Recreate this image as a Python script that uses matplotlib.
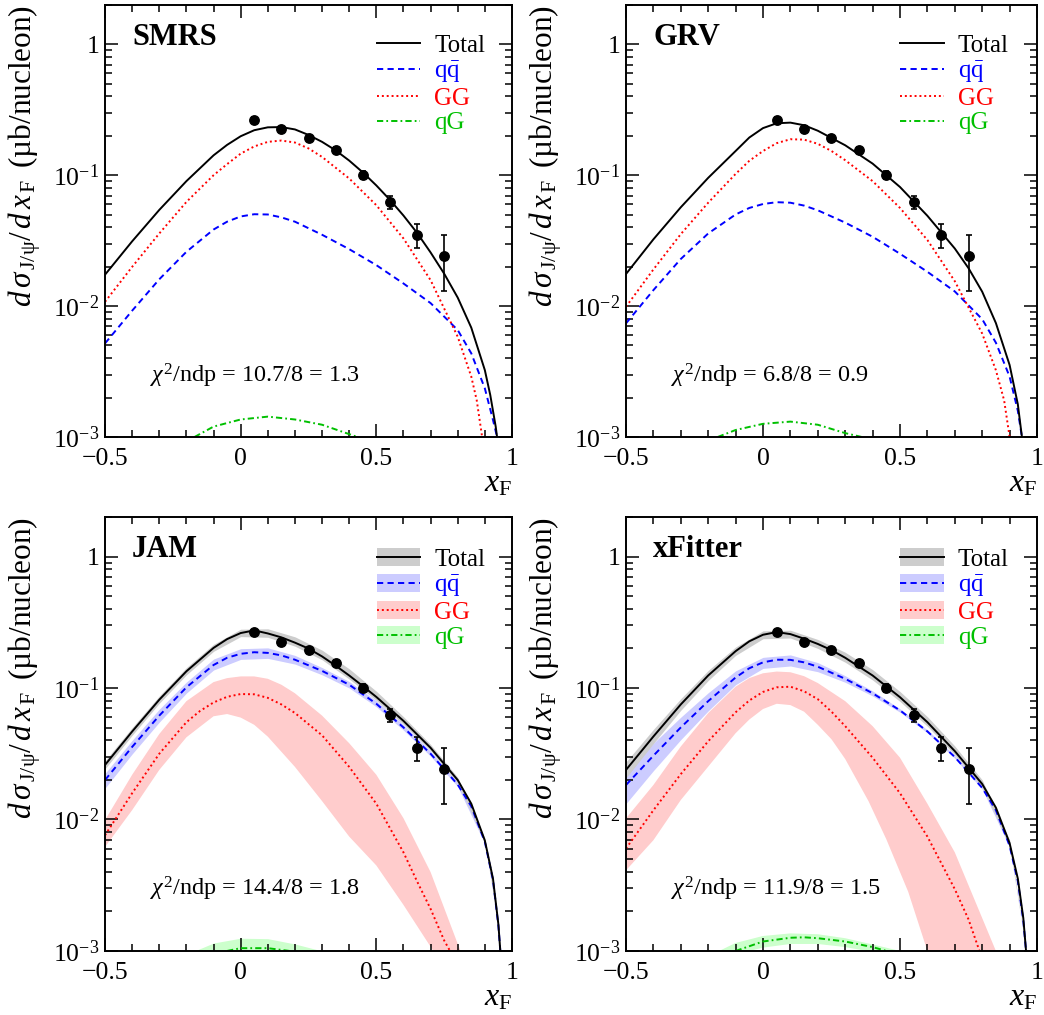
import numpy as np
import matplotlib
matplotlib.use('Agg')
import matplotlib.pyplot as plt
from matplotlib.lines import Line2D
from matplotlib.patches import Patch
from matplotlib import ticker

# ---- fonts: Times-like, ROOT style ----
plt.rcParams['font.family'] = ['Liberation Serif', 'DejaVu Serif']
plt.rcParams['mathtext.fontset'] = 'custom'
plt.rcParams['mathtext.rm'] = 'Liberation Serif'
plt.rcParams['mathtext.it'] = 'Liberation Serif:italic'
plt.rcParams['mathtext.bf'] = 'Liberation Serif:bold'

# ---- data points (same in every panel) ----
xf_data = [0.05, 0.15, 0.25, 0.35, 0.45, 0.55, 0.65, 0.75]
sig_data = [0.266, 0.224, 0.194, 0.155, 0.100, 0.0625, 0.0352, 0.0241]
sig_err = [0.012, 0.010, 0.009, 0.008, 0.007, 0.0073, 0.0074, 0.011]

# ---- SMRS ----
smrs_tot_x = [-0.5, -0.4, -0.3, -0.2, -0.1, -0.05, 0.0, 0.05, 0.1, 0.15, 0.2, 0.25, 0.3, 0.35, 0.4, 0.45,
              0.5, 0.55, 0.6, 0.65, 0.7, 0.75, 0.8, 0.85, 0.9, 0.92, 0.94, 0.945]
smrs_tot_y = [0.01738, 0.03126, 0.05433, 0.09016, 0.1419, 0.1706, 0.1986, 0.2208, 0.2323, 0.2333, 0.2239,
              0.2032, 0.1799, 0.1549, 0.1294, 0.1052, 0.08356, 0.06486, 0.04920, 0.03631, 0.02570, 0.01770,
              0.01161, 0.00684, 0.00324, 0.00209, 0.00120, 0.001]
smrs_gg_x = [-0.5, -0.4, -0.3, -0.2, -0.1, -0.05, 0.0, 0.05, 0.1, 0.15, 0.2, 0.25, 0.3, 0.4, 0.5, 0.6,
             0.7, 0.8, 0.85, 0.87, 0.89]
smrs_gg_y = [0.01079, 0.01995, 0.03589, 0.06252, 0.1000, 0.1216, 0.1462, 0.1660, 0.1799, 0.1841, 0.1778,
             0.1603, 0.1380, 0.09441, 0.05902, 0.03289, 0.01578, 0.00583, 0.00289, 0.00191, 0.001]
smrs_qq_x = [-0.5, -0.4, -0.3, -0.2, -0.1, -0.05, 0.0, 0.05, 0.1, 0.15, 0.2, 0.3, 0.4, 0.5, 0.6, 0.7,
             0.8, 0.85, 0.9, 0.93, 0.945]
smrs_qq_y = [0.005188, 0.009226, 0.01603, 0.02600, 0.03846, 0.04416, 0.04842, 0.05035, 0.05012, 0.04764,
             0.04416, 0.03508, 0.02723, 0.02056, 0.01489, 0.01054, 0.006561, 0.004355, 0.002350, 0.001349, 0.001]
smrs_qg_x = [-0.17, -0.1, 0.0, 0.1, 0.2, 0.3, 0.43]
smrs_qg_y = [0.001, 0.00120, 0.00136, 0.00143, 0.00136, 0.00124, 0.001]

# ---- GRV ----
grv_tot_x = [-0.5, -0.4, -0.3, -0.2, -0.1, -0.05, 0.0, 0.05, 0.1, 0.15, 0.2, 0.3, 0.4, 0.5, 0.6, 0.7,
             0.75, 0.8, 0.85, 0.9, 0.93, 0.945]
grv_tot_y = [0.01758, 0.03236, 0.05689, 0.09550, 0.1531, 0.1941, 0.2291, 0.2495, 0.2523, 0.2410, 0.2188,
             0.1694, 0.1227, 0.08128, 0.04898, 0.02754, 0.01950, 0.01288, 0.007413, 0.003548, 0.001778, 0.001]
grv_gg_x = [-0.5, -0.4, -0.3, -0.2, -0.1, -0.05, 0.0, 0.05, 0.1, 0.15, 0.2, 0.25, 0.3, 0.4, 0.5, 0.6,
            0.7, 0.8, 0.85, 0.88, 0.9]
grv_gg_y = [0.009886, 0.01905, 0.03548, 0.06166, 0.1023, 0.1288, 0.1531, 0.1758, 0.1884, 0.1871, 0.1738,
            0.1531, 0.1303, 0.09016, 0.05623, 0.03199, 0.01549, 0.006166, 0.003236, 0.001905, 0.001]
grv_qq_x = [-0.5, -0.4, -0.3, -0.2, -0.1, -0.05, 0.0, 0.05, 0.1, 0.15, 0.2, 0.3, 0.4, 0.5, 0.6, 0.7,
            0.8, 0.85, 0.9, 0.93, 0.945]
grv_qq_y = [0.007379, 0.01324, 0.02291, 0.03589, 0.05012, 0.05623, 0.06026, 0.06223, 0.06166, 0.05861,
            0.05395, 0.04345, 0.03388, 0.02512, 0.01828, 0.01294, 0.007943, 0.005248, 0.002891, 0.001585, 0.001]
grv_qg_x = [-0.165, -0.1, 0.0, 0.1, 0.2, 0.3, 0.36]
grv_qg_y = [0.001, 0.00113, 0.00126, 0.00131, 0.00124, 0.00107, 0.001]

# ---- JAM ----
jam_tot_x = [-0.5, -0.4, -0.3, -0.2, -0.1, -0.05, 0.0, 0.05, 0.1, 0.15, 0.2, 0.25, 0.3, 0.35, 0.4, 0.45,
             0.5, 0.6, 0.7, 0.8, 0.85, 0.9, 0.93, 0.95, 0.957]
jam_tot_y = [0.02600, 0.04667, 0.08147, 0.1340, 0.2018, 0.2355, 0.2618, 0.2742, 0.2600, 0.2427, 0.2213,
             0.1995, 0.1738, 0.1479, 0.1245, 0.1035, 0.08551, 0.05623, 0.03508, 0.01995, 0.01318, 0.006918,
             0.003548, 0.001585, 0.001]
jam_qq_x = [-0.5, -0.4, -0.3, -0.2, -0.1, -0.05, 0.0, 0.05, 0.1, 0.15, 0.2, 0.3, 0.4, 0.5, 0.6, 0.7,
            0.8, 0.85, 0.9, 0.93, 0.95, 0.957]
jam_qq_y = [0.01995, 0.03565, 0.06166, 0.1012, 0.1496, 0.1698, 0.1820, 0.1871, 0.1849, 0.1770, 0.1641,
            0.1349, 0.1059, 0.07586, 0.05012, 0.03162, 0.01841, 0.01259, 0.006761, 0.003467, 0.001549, 0.001]
jam_tot_band_x = [-0.5, -0.4, -0.3, -0.2, -0.1, 0.0, 0.1, 0.2, 0.3, 0.4, 0.5, 0.6, 0.7, 0.8, 0.9, 0.95]
jam_tot_hi = [0.0280, 0.0500, 0.0870, 0.143, 0.215, 0.280, 0.282, 0.245, 0.194, 0.140, 0.0945, 0.0605,
              0.0372, 0.0209, 0.00720, 0.00165]
jam_tot_lo = [0.0243, 0.0437, 0.0765, 0.126, 0.190, 0.246, 0.243, 0.208, 0.164, 0.117, 0.0805, 0.0530,
              0.0334, 0.0190, 0.00665, 0.00153]
jam_qq_band_x = [-0.5, -0.4, -0.3, -0.2, -0.1, 0.0, 0.1, 0.2, 0.3, 0.4, 0.5, 0.6, 0.7, 0.8, 0.9]
jam_qq_hi = [0.0224, 0.0400, 0.0690, 0.111, 0.166, 0.199, 0.202, 0.177, 0.143, 0.112, 0.0800, 0.0525,
             0.0330, 0.0191, 0.00700]
jam_qq_lo = [0.0173, 0.0315, 0.0550, 0.0915, 0.137, 0.165, 0.168, 0.152, 0.126, 0.100, 0.0720, 0.0478,
             0.0303, 0.0178, 0.00652]
jam_gg_x = [-0.5, -0.4, -0.3, -0.2, -0.15, -0.1, -0.05, 0.0, 0.05, 0.1, 0.15, 0.2, 0.3, 0.4, 0.5, 0.6,
            0.65, 0.7, 0.75, 0.78]
jam_gg_y = [0.007586, 0.01585, 0.03162, 0.05495, 0.06683, 0.07762, 0.08570, 0.08995, 0.08954, 0.08414,
            0.07499, 0.06457, 0.04365, 0.02512, 0.01318, 0.005623, 0.003388, 0.002089, 0.001202, 0.000933]
jam_gg_hi_x = [-0.5, -0.4, -0.3, -0.2, -0.1, -0.05, 0.0, 0.05, 0.1, 0.15, 0.2, 0.3, 0.4, 0.5, 0.6, 0.7, 0.81]
jam_gg_hi = [0.009886, 0.02188, 0.04467, 0.07943, 0.1109, 0.1189, 0.1225, 0.1225, 0.1175, 0.1059, 0.09120,
             0.06166, 0.03802, 0.02188, 0.01023, 0.00398, 0.001]
jam_gg_lo_x = [-0.5, -0.4, -0.3, -0.2, -0.1, -0.05, 0.0, 0.05, 0.1, 0.2, 0.3, 0.4, 0.5, 0.6, 0.71]
jam_gg_lo = [0.006180, 0.01178, 0.02382, 0.04217, 0.06095, 0.06339, 0.05957, 0.05248, 0.04266, 0.02512,
             0.01380, 0.007413, 0.00447, 0.00224, 0.001]
jam_qg_x = [-0.05, 0.0, 0.1, 0.18]
jam_qg_y = [0.001, 0.00105, 0.00105, 0.001]
jam_qg_hi_x = [-0.17, -0.1, 0.0, 0.1, 0.2, 0.3]
jam_qg_hi = [0.001, 0.00115, 0.00125, 0.00124, 0.00113, 0.001]

# ---- xFitter ----
xft_tot_x = [-0.5, -0.4, -0.3, -0.2, -0.1, -0.05, 0.0, 0.05, 0.1, 0.15, 0.2, 0.25, 0.3, 0.4, 0.5, 0.6,
             0.7, 0.8, 0.85, 0.9, 0.93, 0.95, 0.96]
xft_tot_y = [0.02382, 0.04276, 0.07499, 0.1245, 0.1905, 0.2265, 0.2541, 0.2661, 0.2570, 0.2371, 0.2163,
             0.1941, 0.1698, 0.1245, 0.08511, 0.05495, 0.03311, 0.01862, 0.01230, 0.006607, 0.003548,
             0.001778, 0.001]
xft_qq_x = [-0.5, -0.4, -0.3, -0.2, -0.1, -0.05, 0.0, 0.05, 0.1, 0.15, 0.2, 0.3, 0.4, 0.5, 0.6, 0.7,
            0.8, 0.85, 0.9, 0.93, 0.95, 0.96]
xft_qq_y = [0.01828, 0.03055, 0.05012, 0.07943, 0.1202, 0.1413, 0.1567, 0.1641, 0.1637, 0.1567, 0.1452,
            0.1175, 0.09120, 0.06761, 0.04677, 0.02985, 0.01738, 0.01175, 0.006310, 0.003388, 0.001698, 0.001]
xft_tot_band_x = [-0.5, -0.4, -0.3, -0.2, -0.1, 0.0, 0.1, 0.2, 0.3, 0.4, 0.5, 0.6, 0.7, 0.8, 0.9, 0.96]
xft_tot_hi = [0.0274, 0.0484, 0.0830, 0.136, 0.205, 0.272, 0.275, 0.234, 0.187, 0.138, 0.0940, 0.0605,
              0.0362, 0.0200, 0.00700, 0.001]
xft_tot_lo = [0.0207, 0.0378, 0.0677, 0.114, 0.177, 0.237, 0.240, 0.200, 0.157, 0.115, 0.0790, 0.0512,
              0.0310, 0.0176, 0.00630, 0.001]
xft_qq_band_x = [-0.5, -0.4, -0.3, -0.2, -0.1, 0.0, 0.1, 0.2, 0.3, 0.4, 0.5, 0.6, 0.7, 0.8, 0.9]
xft_qq_hi = [0.0238, 0.0380, 0.0600, 0.0920, 0.135, 0.171, 0.1785, 0.156, 0.124, 0.0950, 0.0695, 0.0480,
             0.0306, 0.0178, 0.00645]
xft_qq_lo = [0.0132, 0.0235, 0.0405, 0.0670, 0.106, 0.141, 0.147, 0.133, 0.1105, 0.0870, 0.0655, 0.0456,
             0.0292, 0.0170, 0.00617]
xft_gg_x = [-0.5, -0.4, -0.3, -0.2, -0.1, -0.05, 0.0, 0.05, 0.1, 0.15, 0.2, 0.25, 0.3, 0.4, 0.5, 0.6,
            0.7, 0.75, 0.79]
xft_gg_y = [0.006012, 0.01175, 0.02213, 0.03936, 0.06531, 0.08035, 0.09333, 0.1012, 0.1023, 0.09441,
            0.08222, 0.06607, 0.05129, 0.02951, 0.01585, 0.007413, 0.002951, 0.001738, 0.001]
xft_gg_hi_x = [-0.5, -0.4, -0.3, -0.2, -0.1, -0.05, 0.0, 0.05, 0.1, 0.15, 0.2, 0.3, 0.4, 0.5, 0.6, 0.7,
               0.75, 0.8, 0.85]
xft_gg_hi = [0.01019, 0.01828, 0.03589, 0.06442, 0.1023, 0.1189, 0.1294, 0.1334, 0.1318, 0.1230, 0.1091,
             0.07943, 0.05129, 0.02951, 0.01318, 0.005623, 0.003162, 0.001778, 0.001]
xft_gg_lo_x = [-0.5, -0.4, -0.3, -0.2, -0.1, -0.05, 0.0, 0.05, 0.1, 0.15, 0.2, 0.25, 0.3, 0.385, 0.45,
               0.53, 0.6]
xft_gg_lo = [0.004102, 0.006950, 0.01406, 0.02523, 0.04529, 0.05754, 0.06918, 0.07586, 0.07413, 0.06607,
             0.05248, 0.04074, 0.02884, 0.01380, 0.007079, 0.002818, 0.001]
xft_qg_x = [-0.1, 0.0, 0.1, 0.15, 0.2, 0.3, 0.4, 0.45]
xft_qg_y = [0.001, 0.00118, 0.00126, 0.00127, 0.00125, 0.00118, 0.00107, 0.001]
xft_qg_hi_x = [-0.16, -0.1, 0.0, 0.1, 0.2, 0.3, 0.4, 0.5]
xft_qg_hi = [0.001, 0.00115, 0.00130, 0.00136, 0.00134, 0.00125, 0.00112, 0.001]
xft_qg_lo_x = [-0.05, 0.0, 0.1, 0.2, 0.3, 0.38]
xft_qg_lo = [0.001, 0.00106, 0.00113, 0.00113, 0.00107, 0.001]

# ---- text ----
panel_names = ['SMRS', 'GRV', 'JAM', 'xFitter']
chi2_texts = [r'$\chi^2$/ndp = 10.7/8 = 1.3', r'$\chi^2$/ndp = 6.8/8 = 0.9',
              r'$\chi^2$/ndp = 14.4/8 = 1.8', r'$\chi^2$/ndp = 11.9/8 = 1.5']
legend_labels = ['Total', r'$\mathrm{q\bar{q}}$', 'GG', 'qG']
ylabel_text = r'$d\,\sigma_{\,\mathrm{J/\psi}}/\,d\,x_{\,\mathrm{F}}\,$' + ' (\u00b5b/nucleon)'
xlabel_text = r'$x_{\mathrm{F}}$'
xtick_vals = [-0.5, 0, 0.5, 1]
xtick_labels = ['\u22120.5', '0', '0.5', '1']
ytick_vals = [1e-3, 1e-2, 1e-1, 1]
ytick_labels = [r'$10^{-3}$', r'$10^{-2}$', r'$10^{-1}$', '1']

XMIN, XMAX = -0.5, 1.0
YMIN, YMAX = 1e-3, 2.0

C_TOT, C_QQ, C_GG, C_QG = 'black', '#0000ff', '#ff0000', '#00c000'
B_TOT, B_QQ, B_GG, B_QG = '#cdcdcd', '#ccccff', '#ffcccc', '#ccffcc'
LW = 1.4
LS_QQ = (0, (3.2, 2.2))
LS_GG = (0, (1.0, 1.5))
LS_QG = (0, (3.2, 1.6, 0.9, 1.6))


def setup_axes(ax, name, chi2):
    ax.set_yscale('log')
    ax.set_xlim(XMIN, XMAX)
    ax.set_ylim(YMIN, YMAX)
    ax.set_xticks(xtick_vals)
    ax.set_xticklabels(xtick_labels)
    ax.xaxis.set_minor_locator(ticker.MultipleLocator(0.1))
    ax.set_yticks(ytick_vals)
    ax.set_yticklabels(ytick_labels)
    ax.yaxis.set_minor_locator(ticker.LogLocator(base=10, subs=np.arange(2, 10)))
    ax.yaxis.set_minor_formatter(ticker.NullFormatter())
    ax.tick_params(which='both', direction='in', top=True, right=True, width=1.1)
    ax.tick_params(which='major', length=9.5, labelsize=18.5)
    ax.tick_params(which='minor', length=5)
    ax.tick_params(axis='x', which='major', pad=8)
    ax.tick_params(axis='y', which='major', pad=4)
    for sp in ax.spines.values():
        sp.set_linewidth(1.4)
    ax.set_ylabel(ylabel_text, fontsize=22.5, loc='top')
    ax.yaxis.set_label_coords(-0.152, 1.0)
    ax.text(1.0, -0.075, xlabel_text, transform=ax.transAxes,
            ha='right', va='top', fontsize=23)
    ax.text(0.066, 0.907, name, transform=ax.transAxes, ha='left', va='baseline',
            fontsize=22, fontweight='bold')
    ax.text(0.11, 0.127, chi2, transform=ax.transAxes, ha='left', va='baseline',
            fontsize=17.5)


def draw_data(ax):
    ax.errorbar(xf_data, sig_data, yerr=sig_err, fmt='o', color='black', ms=6.8,
                elinewidth=1.2, capsize=2.2, capthick=1.2, zorder=10)


def add_legend(ax, with_bands):
    lines = [Line2D([], [], color=C_TOT, lw=LW),
             Line2D([], [], color=C_QQ, lw=LW, ls=LS_QQ),
             Line2D([], [], color=C_GG, lw=LW, ls=LS_GG),
             Line2D([], [], color=C_QG, lw=LW, ls=LS_QG)]
    if with_bands:
        handles = [(Patch(facecolor=b, edgecolor='none'), l)
                   for b, l in zip([B_TOT, B_QQ, B_GG, B_QG], lines)]
        top = 0.94
    else:
        handles = lines
        top = 0.945
    ax.legend(handles, legend_labels, loc='upper left', bbox_to_anchor=(0.655, top),
              frameon=False, fontsize=18, handlelength=1.75, handleheight=0.75,
              handletextpad=0.55, labelspacing=0.08, borderpad=0.2, borderaxespad=0,
              labelcolor=[C_TOT, C_QQ, C_GG, C_QG])


fig = plt.figure(figsize=(10.44, 10.15), dpi=100)
ax1 = fig.add_axes([0.1006, 0.5695, 0.3898, 0.4256])
ax2 = fig.add_axes([0.5996, 0.5695, 0.3937, 0.4256])
ax3 = fig.add_axes([0.1006, 0.0631, 0.3898, 0.4276])
ax4 = fig.add_axes([0.5996, 0.0631, 0.3937, 0.4276])

# ---- SMRS ----
ax1.plot(smrs_qg_x, smrs_qg_y, color=C_QG, lw=LW, ls=LS_QG)
ax1.plot(smrs_qq_x, smrs_qq_y, color=C_QQ, lw=LW, ls=LS_QQ)
ax1.plot(smrs_gg_x, smrs_gg_y, color=C_GG, lw=LW, ls=LS_GG)
ax1.plot(smrs_tot_x, smrs_tot_y, color=C_TOT, lw=LW)
draw_data(ax1)
setup_axes(ax1, panel_names[0], chi2_texts[0])
add_legend(ax1, False)

# ---- GRV ----
ax2.plot(grv_qg_x, grv_qg_y, color=C_QG, lw=LW, ls=LS_QG)
ax2.plot(grv_qq_x, grv_qq_y, color=C_QQ, lw=LW, ls=LS_QQ)
ax2.plot(grv_gg_x, grv_gg_y, color=C_GG, lw=LW, ls=LS_GG)
ax2.plot(grv_tot_x, grv_tot_y, color=C_TOT, lw=LW)
draw_data(ax2)
setup_axes(ax2, panel_names[1], chi2_texts[1])
add_legend(ax2, False)

# ---- JAM ----
ax3.fill(jam_gg_hi_x + jam_gg_lo_x[::-1], jam_gg_hi + jam_gg_lo[::-1], color=B_GG, lw=0)
ax3.fill_between(jam_qg_hi_x, jam_qg_hi, YMIN, color=B_QG, lw=0)
ax3.fill_between(jam_qq_band_x, jam_qq_lo, jam_qq_hi, color=B_QQ, lw=0)
ax3.fill_between(jam_tot_band_x, jam_tot_lo, jam_tot_hi, color=B_TOT, lw=0)
ax3.plot(jam_qg_x, jam_qg_y, color=C_QG, lw=LW, ls=LS_QG)
ax3.plot(jam_gg_x, jam_gg_y, color=C_GG, lw=LW, ls=LS_GG)
ax3.plot(jam_qq_x, jam_qq_y, color=C_QQ, lw=LW, ls=LS_QQ)
ax3.plot(jam_tot_x, jam_tot_y, color=C_TOT, lw=LW)
draw_data(ax3)
setup_axes(ax3, panel_names[2], chi2_texts[2])
add_legend(ax3, True)

# ---- xFitter ----
ax4.fill(xft_gg_hi_x + xft_gg_lo_x[::-1], xft_gg_hi + xft_gg_lo[::-1], color=B_GG, lw=0)
ax4.fill(xft_qg_hi_x + xft_qg_lo_x[::-1], xft_qg_hi + xft_qg_lo[::-1], color=B_QG, lw=0)
ax4.fill_between(xft_qq_band_x, xft_qq_lo, xft_qq_hi, color=B_QQ, lw=0)
ax4.fill_between(xft_tot_band_x, xft_tot_lo, xft_tot_hi, color=B_TOT, lw=0)
ax4.plot(xft_qg_x, xft_qg_y, color=C_QG, lw=LW, ls=LS_QG)
ax4.plot(xft_gg_x, xft_gg_y, color=C_GG, lw=LW, ls=LS_GG)
ax4.plot(xft_qq_x, xft_qq_y, color=C_QQ, lw=LW, ls=LS_QQ)
ax4.plot(xft_tot_x, xft_tot_y, color=C_TOT, lw=LW)
draw_data(ax4)
setup_axes(ax4, panel_names[3], chi2_texts[3])
add_legend(ax4, True)

fig.savefig('out.png', dpi=100)
